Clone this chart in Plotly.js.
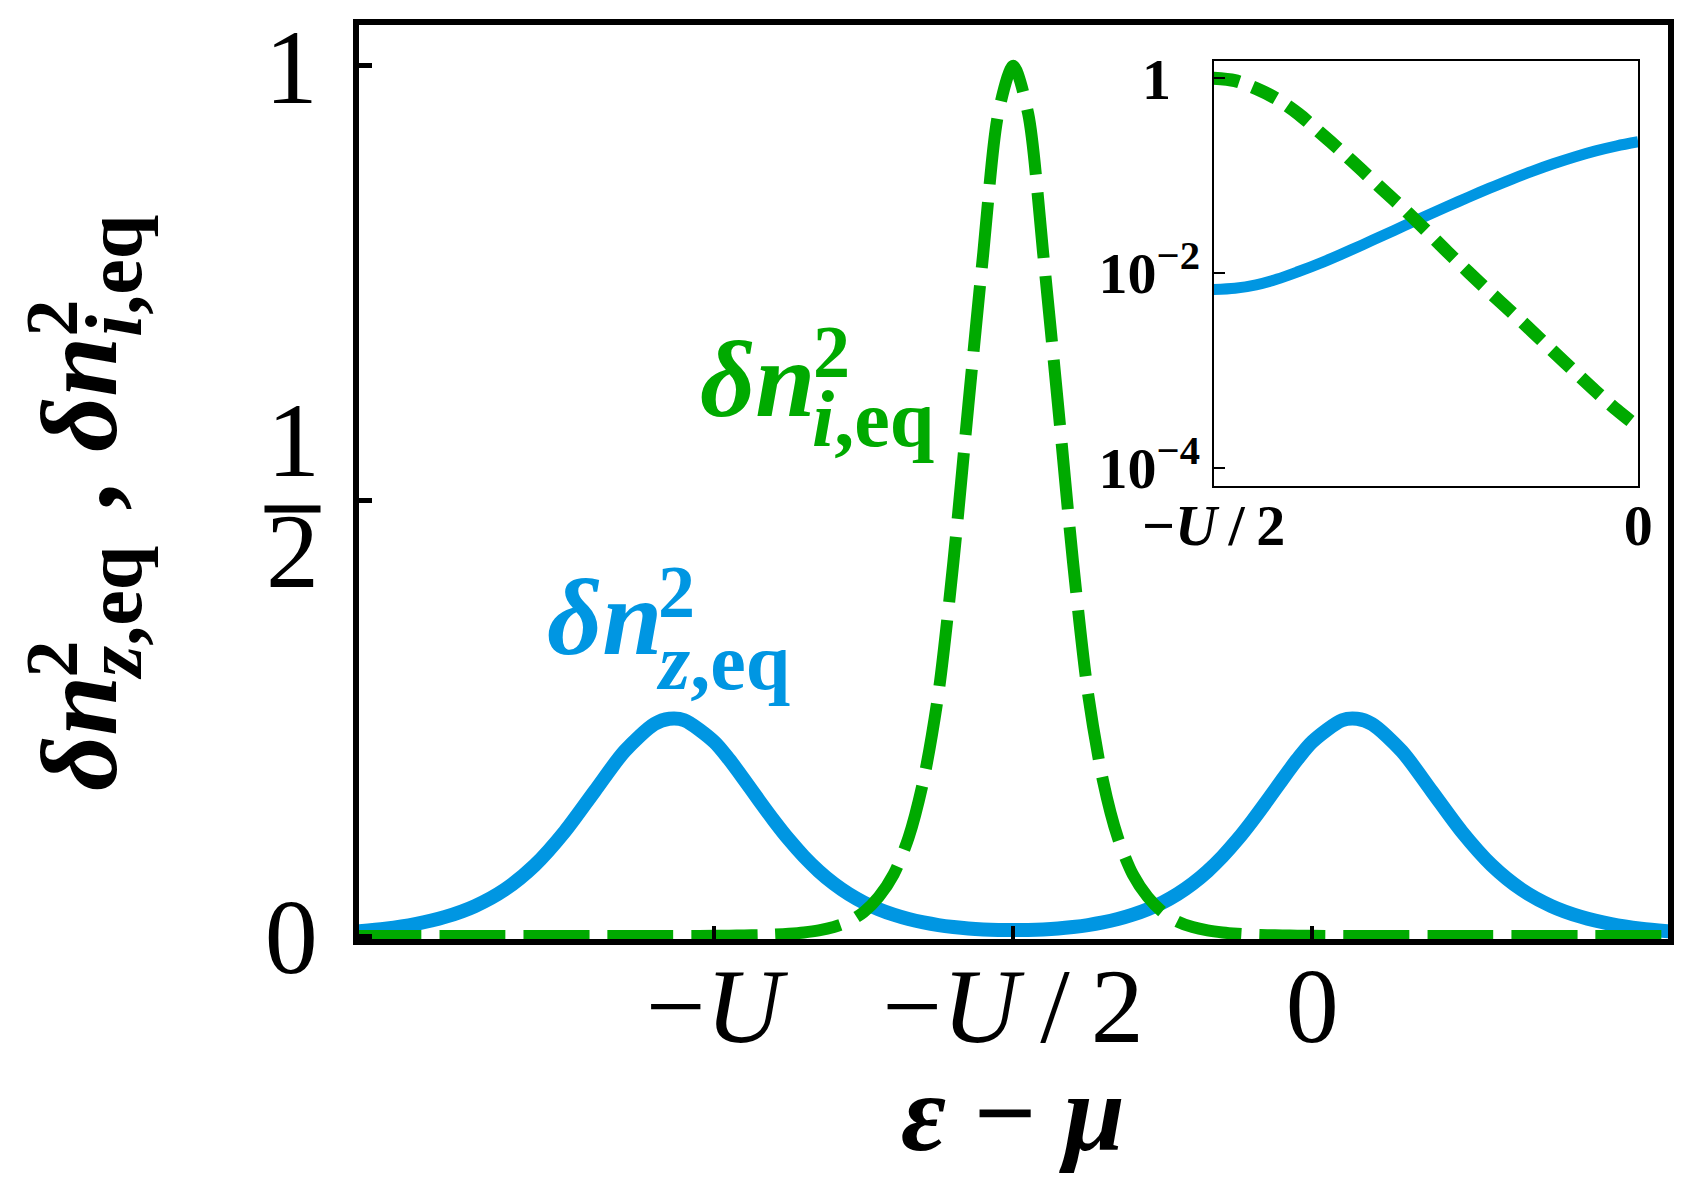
<!DOCTYPE html>
<html>
<head>
<meta charset="utf-8">
<script src="https://cdn.plot.ly/plotly-3.0.1.min.js"></script>
<style>
  html, body { margin: 0; padding: 0; background: #fff; }
  #chart { width: 1699px; height: 1186px; }
</style>
</head>
<body>
<div id="chart"></div>
<script>
// epsilon - mu, in units of U
var energy = [-1.6, -1.55, -1.5, -1.45, -1.4, -1.35, -1.3, -1.25, -1.2, -1.15, -1.1, -1.075, -1.05,
  -1.0, -0.975, -0.95, -0.925, -0.9, -0.875, -0.85, -0.825, -0.8, -0.775, -0.75, -0.725, -0.7,
  -0.675, -0.65, -0.625, -0.6, -0.575, -0.55, -0.525, -0.5,
  -0.475, -0.45, -0.425, -0.4, -0.375, -0.35, -0.325, -0.3, -0.275, -0.25, -0.225, -0.2,
  -0.175, -0.15, -0.125, -0.1, -0.075, -0.05, -0.025, 0,
  0.05, 0.075, 0.1, 0.15, 0.2, 0.25, 0.3, 0.35, 0.4, 0.45, 0.5, 0.55, 0.6];

// delta n_z,eq^2 (blue, solid)
var dnZ = [0.0052, 0.0085, 0.0138, 0.0220, 0.0345, 0.0535, 0.0815, 0.1200, 0.1664, 0.2123, 0.2437, 0.2497, 0.2480,
  0.2232, 0.2029, 0.1798, 0.1558, 0.1325, 0.1108, 0.0914, 0.0745, 0.0602, 0.0483, 0.0386, 0.0308, 0.0245,
  0.0195, 0.0156, 0.0126, 0.0104, 0.0087, 0.0076, 0.0070, 0.0068,
  0.0070, 0.0076, 0.0087, 0.0104, 0.0126, 0.0156, 0.0195, 0.0245, 0.0308, 0.0386, 0.0483, 0.0602,
  0.0745, 0.0914, 0.1108, 0.1325, 0.1558, 0.1798, 0.2029, 0.2232,
  0.2480, 0.2497, 0.2437, 0.2123, 0.1664, 0.1200, 0.0815, 0.0535, 0.0345, 0.0220, 0.0138, 0.0085, 0.0052];

// delta n_i,eq^2 (green, dashed)
var dnI = [0, 0, 0, 0, 0, 0, 0, 0, 0.000007, 0.000017, 0.000042, 0.000066, 0.000105,
  0.000264, 0.000394, 0.000615, 0.00098, 0.00157, 0.00254, 0.00405, 0.00641, 0.01028, 0.01667, 0.0275, 0.0448, 0.0708,
  0.113, 0.179, 0.279, 0.43, 0.61, 0.785, 0.945, 1.0,
  0.945, 0.785, 0.61, 0.43, 0.279, 0.179, 0.113, 0.0708, 0.0448, 0.0275, 0.01667, 0.01028,
  0.00641, 0.00405, 0.00254, 0.00157, 0.00098, 0.000615, 0.000394, 0.000264,
  0.000105, 0.000066, 0.000042, 0.000017, 0.000007, 0, 0, 0, 0, 0, 0, 0, 0];

var xTickVals = [-1, -0.5, 0];
var xTickText = ["\u2212<i>U</i>", "\u2212<i>U</i>\u2009/\u20092", "0"];
var yTickVals = [0, 0.5, 1];
var yTickText = ["0", "\u00a0", "1"];
var insetXTickVals = [-0.5, 0];
var insetXTickText = ["<b>\u2212<i>U</i>\u2009/\u20092</b>", "<b>0</b>"];
var insetYTickVals = [1e-4, 1e-2, 1];
var insetYTickText = ["<b>10<sup>\u22124</sup></b>", "<b>10<sup>\u22122</sup></b>", "<b>1</b>\u00a0\u00a0"];

var BLUE = "#0096e2";
var GREEN = "#00aa00";
var SERIF = "Liberation Serif, Times New Roman, serif";

// inset shows the window -U/2 .. 0 of the same curves
var insX = [], insZ = [], insI = [];
energy.forEach(function (e, k) {
  if (e >= -0.5 && e <= 0) { insX.push(e); insZ.push(dnZ[k]); insI.push(dnI[k]); }
});

// plot area in pixels
var L = 359, T = 25, W = 1309, H = 914;
function px(x) { return (x - L) / W; }
function py(y) { return (T + H - y) / H; }

function label(text, x, y, size, color, opts) {
  var a = {
    text: text, xref: "paper", yref: "paper", x: px(x), y: py(y),
    xanchor: "left", yanchor: "middle", showarrow: false,
    font: { family: SERIF, size: size, color: color }
  };
  for (var k in (opts || {})) a[k] = opts[k];
  return a;
}
function vlabel(text, cx, bottom, size) {
  return label(text, cx, bottom, size, "#000", { textangle: -90, xanchor: "center", yanchor: "bottom" });
}

var traces = [
  { x: energy, y: dnZ, type: "scatter", mode: "lines", xaxis: "x", yaxis: "y",
    line: { color: BLUE, width: 14, shape: "spline", smoothing: 0.8 }, hoverinfo: "skip" },
  { x: energy, y: dnI, type: "scatter", mode: "lines", xaxis: "x", yaxis: "y",
    line: { color: GREEN, width: 12, dash: "66px,18px", shape: "spline", smoothing: 0.8 }, hoverinfo: "skip" },
  { x: insX, y: insZ, type: "scatter", mode: "lines", xaxis: "x2", yaxis: "y2",
    line: { color: BLUE, width: 11, shape: "spline", smoothing: 0.8 }, hoverinfo: "skip" },
  { x: insX, y: insI, type: "scatter", mode: "lines", xaxis: "x2", yaxis: "y2",
    line: { color: GREEN, width: 13, dash: "26px,14px", shape: "spline", smoothing: 0.8 }, hoverinfo: "skip" }
];

var layout = {
  width: 1699, height: 1186,
  margin: { l: L, r: 1699 - L - W, t: T, b: 1186 - T - H, pad: 0 },
  paper_bgcolor: "#fff", plot_bgcolor: "#fff",
  showlegend: false,
  font: { family: SERIF, color: "#000" },
  xaxis: {
    range: [-1.594, 0.595], showgrid: false, zeroline: false,
    showline: true, linecolor: "#000", linewidth: 6, mirror: true,
    ticks: "inside", ticklen: 13, tickwidth: 4, tickcolor: "#000",
    tickmode: "array", tickvals: xTickVals, ticktext: xTickText,
    tickfont: { family: SERIF, size: 106, color: "#000" },
    ticklabelstandoff: -30
  },
  yaxis: {
    range: [-0.0034, 1.0468], showgrid: false, zeroline: false,
    showline: true, linecolor: "#000", linewidth: 6, mirror: true,
    ticks: "inside", ticklen: 13, tickwidth: 5, tickcolor: "#000",
    tickmode: "array", tickvals: yTickVals, ticktext: yTickText,
    tickfont: { family: SERIF, size: 106, color: "#000" },
    ticklabelstandoff: 14
  },
  xaxis2: {
    anchor: "y2", domain: [0.6529, 0.9772], range: [-0.5, 0],
    showgrid: false, zeroline: false,
    showline: true, linecolor: "#000", linewidth: 2, mirror: true,
    ticks: "", tickmode: "array", tickvals: insetXTickVals, ticktext: insetXTickText,
    tickfont: { family: SERIF, size: 58, color: "#000" },
    ticklabelstandoff: -13
  },
  yaxis2: {
    anchor: "x2", domain: [0.4954, 0.9602], type: "log", range: [-4.186, 0.1734],
    showgrid: false, zeroline: false,
    showline: true, linecolor: "#000", linewidth: 2, mirror: true,
    ticks: "inside", ticklen: 11, tickwidth: 2, tickcolor: "#000",
    tickmode: "array", tickvals: insetYTickVals, ticktext: insetYTickText,
    tickfont: { family: SERIF, size: 58, color: "#000" }
  },
  annotations: [
    // x axis title
    label("<b><i>\u03b5</i> \u2212 <i>\u03bc</i></b>", 1013, 1113, 110, "#000", { xanchor: "center" }),

    // the 1/2 tick label, drawn as a stacked fraction
    label("1", 293, 440, 106, "#000", { xanchor: "center" }),
    label("\u00a0", 292.5, 509, 4, "#000", { xanchor: "center", width: 55, height: 6, bgcolor: "#000", borderpad: 0 }),
    label("2", 292, 551, 106, "#000", { xanchor: "center" }),

    label("<b><i>\u03b4n</i></b>", 698, 379.5, 108, GREEN),
    label("<b>2</b>", 811, 352, 74, GREEN),
    label("<b><i>i</i>,eq</b>", 810, 419, 80, GREEN),

    label("<b><i>\u03b4n</i></b>", 545, 617.5, 108, BLUE),
    label("<b>2</b>", 656, 592, 74, BLUE),
    label("<b><i>z</i>,eq</b>", 654, 662, 80, BLUE),

    vlabel("<b><i>\u03b4n</i></b>", 79.5, 793, 108),
    vlabel("<b>2</b>", 51, 680, 74),
    vlabel("<b><i>z</i>,eq</b>", 114, 682, 80),
    label("<b>,</b>", 77.5, 497, 108, "#000", { textangle: -90, xanchor: "center", yanchor: "middle" }),
    vlabel("<b><i>\u03b4n</i></b>", 79.5, 454, 108),
    vlabel("<b>2</b>", 51, 339, 74),
    vlabel("<b><i>i</i>,eq</b>", 114, 339, 80)
  ]
};

Plotly.newPlot("chart", traces, layout, { displayModeBar: false, staticPlot: true });
</script>
</body>
</html>
